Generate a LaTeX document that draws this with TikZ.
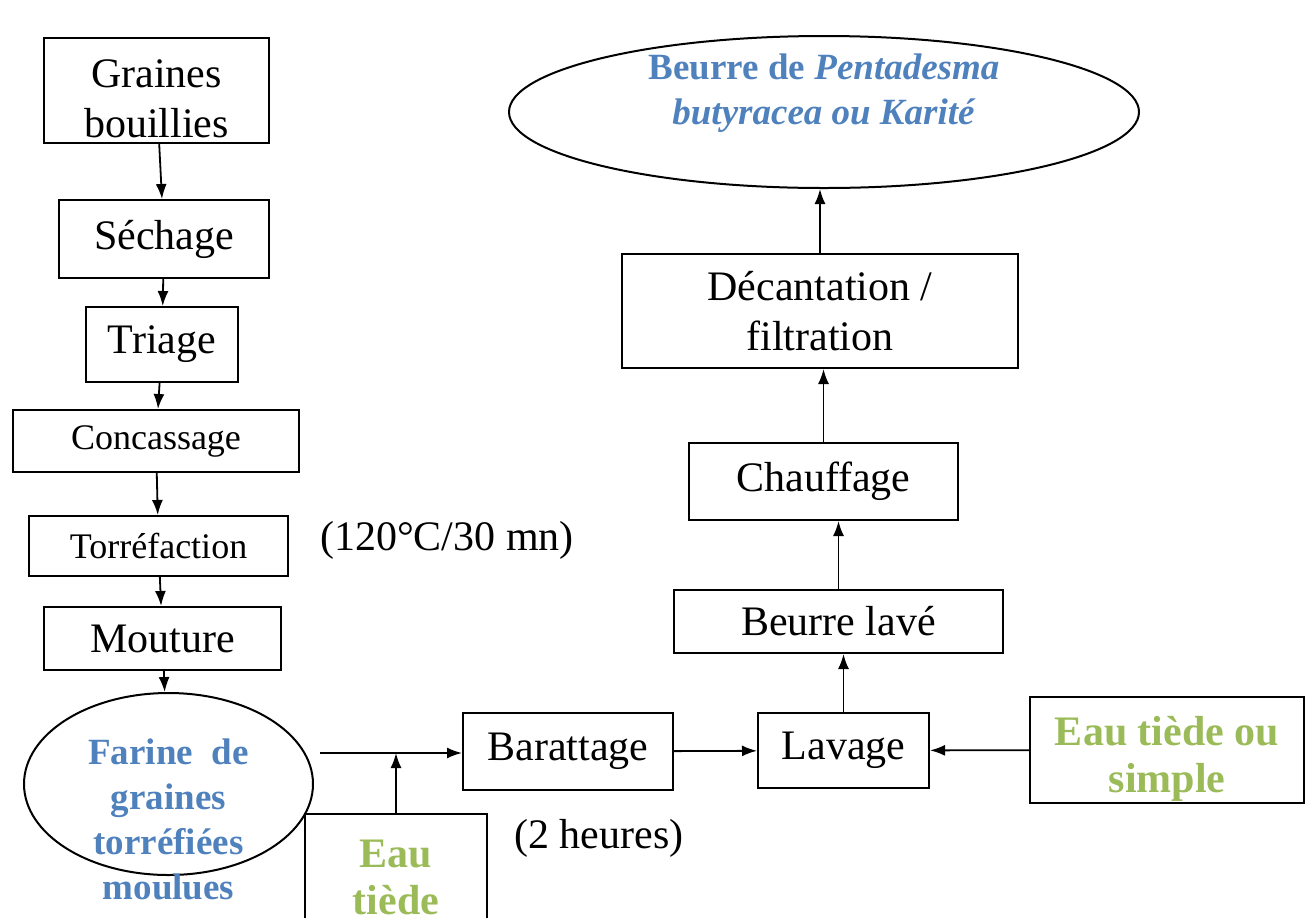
\documentclass[tikz,border=0pt]{standalone}
\usepackage{fontspec}
\setmainfont{Liberation Serif}
\usetikzlibrary{arrows.meta,positioning,shapes.geometric}
\definecolor{blue}{HTML}{4F81BD}
\definecolor{green}{HTML}{9BBB59}

\begin{document}
\begin{tikzpicture}[x=0.5pt,y=-0.5pt,>={Latex[length=7.5pt,width=5.5pt]},
  stepbox/.style={draw,line width=1pt,inner sep=2pt,align=center,font=\fontsize{21}{25}\selectfont},
  smallbox/.style={stepbox,font=\fontsize{18}{22}\selectfont},
  ell/.style={ellipse,draw,line width=1pt,inner sep=0pt},
  bluetxt/.style={align=center,text=blue,font=\fontsize{18.5}{22.5}\selectfont\bfseries},
  greentxt/.style={align=center,text=green,font=\fontsize{21}{23.5}\selectfont\bfseries},
  flow/.style={->,line width=0.9pt}]
\clip (0,0) rectangle (1307,917);
% left column
\node[stepbox,minimum width=112.5pt,minimum height=52.5pt] (graines) at (156.5,90.5) {};
\node[font=\fontsize{21}{25}\selectfont,align=center] (grainestxt) at (156.5,99) {Graines\\bouillies};
\node[stepbox,minimum width=105pt,minimum height=39pt] (sechage) at (164,239) {Séchage};
\node[stepbox,minimum width=76pt,minimum height=37.5pt] (triage) at (162,344.5) {Triage};
\node[smallbox,minimum width=143pt,minimum height=31pt] (concass) at (156,441) {Concassage};
\node[smallbox,minimum width=129.5pt,minimum height=30pt] (torref) at (158.5,546) {Torréfaction};
\node[stepbox,minimum width=118.5pt,minimum height=31.5pt] (mouture) at (162.5,638.5) {Mouture};
\node[font=\fontsize{21}{25}\selectfont] (temp) at (447,540) {(120°C/30 mn)};
\node[ell,minimum width=144.5pt,minimum height=91pt] (farine) at (168.5,784) {};
\node[bluetxt] (farinetxt) at (168.5,819) {Farine~ de\\graines\\torréfiées\\moulues};
% bottom row
\node[stepbox,minimum width=91pt,minimum height=63pt] (eau) at (396,877) {};
\node[greentxt] (eautxt) at (396,877) {Eau\\tiède};
\node[stepbox,minimum width=105pt,minimum height=38.5pt] (baratt) at (568,751.5) {Barattage};
\node[font=\fontsize{21}{25}\selectfont] (duree) at (599,838) {(2 heures)};
\node[stepbox,minimum width=85.5pt,minimum height=37.5pt] (lavage) at (843.5,750.5) {Lavage};
\node[stepbox,minimum width=137pt,minimum height=53pt] (eausimple) at (1167,750) {};
\node[greentxt] (eausimpletxt) at (1167,759) {Eau tiède ou\\simple};
% right column
\node[stepbox,minimum width=164.5pt,minimum height=31.5pt] (beurrelave) at (838.5,621.5) {Beurre lavé};
\node[stepbox,minimum width=134.5pt,minimum height=38.5pt] (chauffage) at (823.5,481.5) {Chauffage};
\node[stepbox,minimum width=198pt,minimum height=57pt] (decant) at (820,311) {Décantation /\\filtration};
\node[ell,minimum width=315pt,minimum height=76pt] (beurre) at (824,112) {};
\node[bluetxt] (beurretxt) at (824,93) {Beurre de \textit{Pentadesma}\\\textit{butyracea ou Karité}};
% arrows
\foreach \a/\b in {graines/sechage,sechage/triage,triage/concass,concass/torref,torref/mouture,mouture/farine}{\draw[flow] (\a) -- (\b);}
\coordinate (fstart) at (320,753);
\draw[flow] (fstart) -- (fstart -| baratt.west);
\draw[flow] (eau.north) -- (eau.north |- fstart);
\draw[flow] (baratt) -- (lavage);
\draw[flow] (eausimple) -- (lavage);
\foreach \a/\b in {lavage/beurrelave,beurrelave/chauffage,chauffage/decant,decant/beurre}{\draw[flow] (\a.north) -- (\a.north |- \b.south);}
\end{tikzpicture}
\end{document}
